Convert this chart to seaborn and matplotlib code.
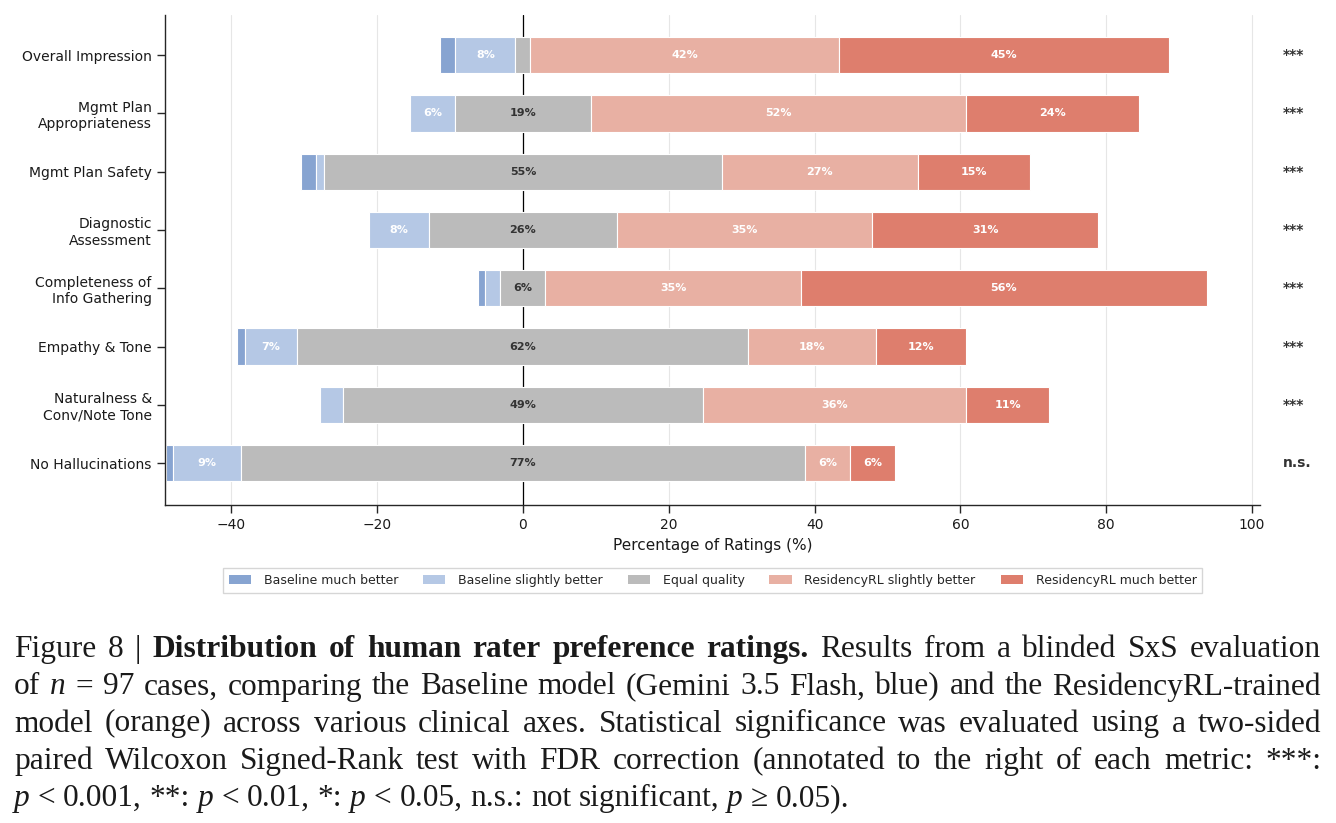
import numpy as np
import pandas as pd
import matplotlib
matplotlib.use("Agg")
import matplotlib.pyplot as plt
from matplotlib.patches import Patch
import seaborn as sns

# ---------------- data ----------------
categories = ["Overall Impression", "Mgmt Plan\nAppropriateness", "Mgmt Plan Safety",
              "Diagnostic\nAssessment", "Completeness of\nInfo Gathering", "Empathy & Tone",
              "Naturalness &\nConv/Note Tone", "No Hallucinations"]
n_cases = 97
baseline_much = [2, 0, 2, 0, 1, 1, 0, 1]
baseline_slight = [8, 6, 1, 8, 2, 7, 3, 9]
equal_quality = [2, 18, 53, 25, 6, 60, 48, 75]
rl_slight = [41, 50, 26, 34, 34, 17, 35, 6]
rl_much = [44, 23, 15, 30, 54, 12, 11, 6]
significance = ["***", "***", "***", "***", "***", "***", "***", "n.s."]
series_labels = ["Baseline much better", "Baseline slightly better", "Equal quality",
                 "ResidencyRL slightly better", "ResidencyRL much better"]
series_colors = ["#87a4d1", "#b5c8e5", "#bbbbbb", "#e8b0a3", "#de7e6d"]
x_ticks = [-40, -20, 0, 20, 40, 60, 80, 100]

# ---------------- style ----------------
sns.set_theme(style="ticks")
plt.rcParams["font.family"] = ["DejaVu Sans"]
plt.rcParams["axes.linewidth"] = 1.0
plt.rcParams["xtick.major.width"] = 1.0
plt.rcParams["ytick.major.width"] = 1.0

W, H = 1336, 823
fig = plt.figure(figsize=(W / 100, H / 100), dpi=100)
ax = fig.add_axes([165 / W, 1 - 505 / H, (1260 - 165) / W, (505 - 15) / H])

df = pd.DataFrame({
    "category": categories,
    "bm": baseline_much, "bs": baseline_slight, "eq": equal_quality,
    "rs": rl_slight, "rm": rl_much,
})
cols = ["bm", "bs", "eq", "rs", "rm"]
pct = df[cols].astype(float) / n_cases * 100.0
starts = -(pct["eq"] / 2 + pct["bs"] + pct["bm"])

ypos = np.arange(len(categories))
left = starts.values.copy()
for ci, c in enumerate(cols):
    widths = pct[c].values
    ax.barh(ypos, widths, left=left, height=0.62, color=series_colors[ci],
            edgecolor="white", linewidth=0.8, zorder=2)
    for yi, (l, w) in enumerate(zip(left, widths)):
        if w >= 4:
            tc = "#333333" if c == "eq" else "white"
            ax.text(l + w / 2, yi, f"{w:.0f}%", ha="center", va="center",
                    fontsize=8, fontweight="bold", color=tc, zorder=3)
    left = left + widths

ax.axvline(0, color="black", linewidth=0.9, zorder=1.5)
ax.set_xlim(-49.1, 101.1)
ax.set_ylim(7.72, -0.69)
ax.set_yticks(ypos)
ax.set_yticklabels(categories, fontsize=10, color="#1a1a1a")
ax.set_xticks(x_ticks)
ax.tick_params(axis="x", labelsize=10, labelcolor="#1a1a1a")
ax.xaxis.grid(True, color="#e6e6e6", linewidth=0.8)
ax.yaxis.grid(False)
ax.set_axisbelow(True)
ax.set_xlabel("Percentage of Ratings (%)", fontsize=11, labelpad=4, color="#1a1a1a")
sns.despine(ax=ax)

for yi, s in enumerate(significance):
    ax.text(104.2, yi, s, ha="left", va="center", fontsize=10, fontweight="bold",
            color="#333333", clip_on=False)

handles = [Patch(facecolor=c, edgecolor="none") for c in series_colors]
fig.legend(handles, series_labels, loc="center", bbox_to_anchor=(712.5 / W, 1 - 580.5 / H),
           ncol=5, fontsize=9, frameon=True, fancybox=False, edgecolor="#cccccc",
           columnspacing=2.0, handlelength=1.8, handletextpad=1.0, borderpad=0.45)

# ---------------- caption (justified) ----------------
R, B, I = "r", "b", "i"
caption_lines = [
    [[("Figure", R)], [("8", R)], [("|", R)], [("Distribution", B)], [("of", B)], [("human", B)],
     [("rater", B)], [("preference", B)], [("ratings.", B)], [("Results", R)], [("from", R)],
     [("a", R)], [("blinded", R)], [("SxS", R)], [("evaluation", R)]],
    [[("of", R)], [("n", I)], [("=", R)], [("97", R)], [("cases,", R)], [("comparing", R)],
     [("the", R)], [("Baseline", R)], [("model", R)], [("(Gemini", R)], [("3.5", R)],
     [("Flash,", R)], [("blue)", R)], [("and", R)], [("the", R)], [("ResidencyRL-trained", R)]],
    [[(w, R)] for w in "model (orange) across various clinical axes. Statistical significance was evaluated using a two-sided".split()],
    [[(w, R)] for w in "paired Wilcoxon Signed-Rank test with FDR correction (annotated to the right of each metric: ***:".split()],
    [[("p", I)], [("<", R)], [("0.001,", R)], [("**:", R)], [("p", I)], [("<", R)], [("0.01,", R)],
     [("*:", R)], [("p", I)], [("<", R)], [("0.05,", R)], [("n.s.:", R)], [("not", R)],
     [("significant,", R)], [("p", I)], [("\u2265", R)], [("0.05).", R)]],
]
baselines = [657, 694.5, 731.5, 769, 806]
x_left, x_right = 14, 1321
serif = ["Liberation Serif", "DejaVu Serif"]
renderer = fig.canvas.get_renderer()


def make_text(s, style, size):
    kw = dict(fontsize=size, family=serif, color="#1a1a1a", ha="left", va="baseline")
    if style == B:
        kw["fontweight"] = "bold"
    if style == I:
        kw["fontstyle"] = "italic"
    return fig.text(0, 0, s, **kw)


def width_of(t):
    return t.get_window_extent(renderer).width


def measure(size):
    objs = []
    for line in caption_lines:
        lo = []
        for word in line:
            wo = []
            for s, st in word:
                t = make_text(s, st, size)
                wo.append([t, width_of(t), st])
            lo.append(wo)
        objs.append(lo)
    a = make_text("xx", R, size)
    b = make_text("x x", R, size)
    sp = width_of(b) - width_of(a)
    a.remove(); b.remove()
    return objs, sp


def clear(objs):
    for lo in objs:
        for wo in lo:
            for item in wo:
                item[0].remove()


target = x_right - x_left
size0 = 22
objs, sp = measure(size0)
nat = [sum(it[1] for wo in lo for it in wo) + sp * (len(lo) - 1) for lo in objs]
factor = 0.975 * target / max(nat[1:4])
clear(objs)
size = size0 * factor
objs, sp = measure(size)

# first line: shrink gaps, then slightly shrink bold run if still too wide
lo = objs[0]
tot = sum(it[1] for wo in lo for it in wo)
min_gap = 0.55 * sp
deficit = tot + min_gap * (len(lo) - 1) - target
if deficit > 0:
    bold_w = sum(it[1] for wo in lo for it in wo if it[2] == B)
    bsize = size * (1 - deficit / bold_w)
    for wo in lo:
        for it in wo:
            if it[2] == B:
                it[0].set_fontsize(bsize)
                it[1] = width_of(it[0])

for li, lo in enumerate(objs):
    words_w = [sum(it[1] for it in wo) for wo in lo]
    if li < len(objs) - 1:
        gap = (target - sum(words_w)) / (len(lo) - 1)
    else:
        gap = sp
    x = x_left
    for wo, ww in zip(lo, words_w):
        xx = x
        for it in wo:
            it[0].set_position((xx / W, 1 - baselines[li] / H))
            xx += it[1]
        x += ww + gap

fig.savefig("out.png", dpi=100, facecolor="white")
